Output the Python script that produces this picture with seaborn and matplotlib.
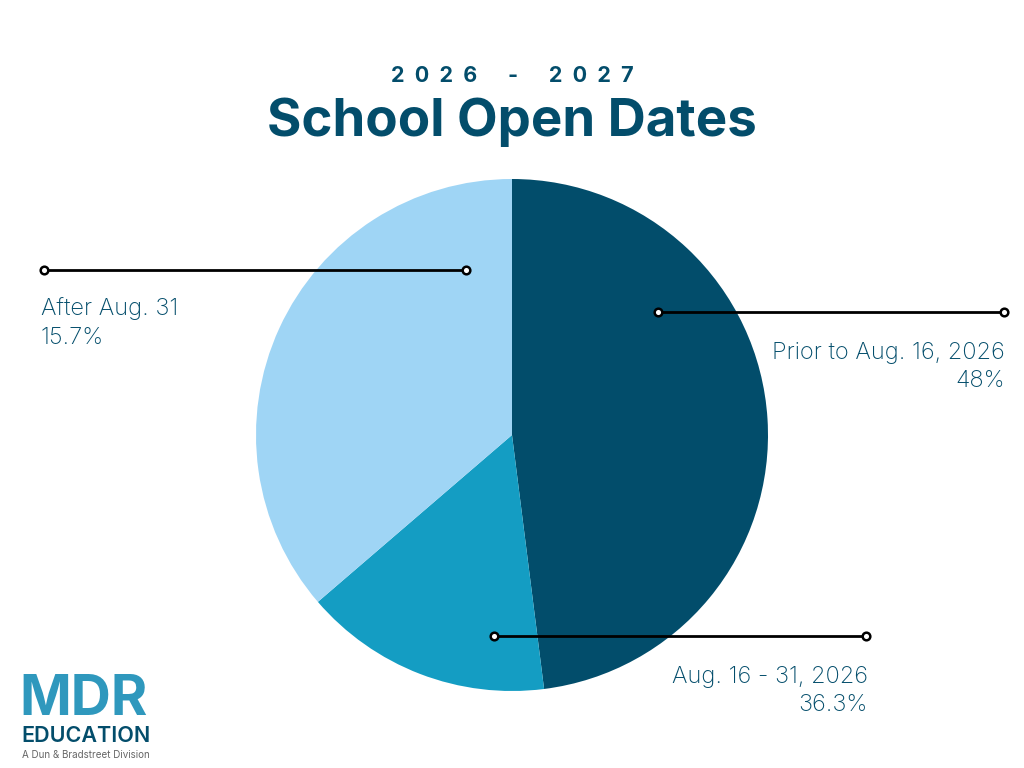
import matplotlib
matplotlib.use("Agg")
import matplotlib.pyplot as plt
import seaborn as sns

# ---- data ----
slice_values = [48.0, 15.7, 36.3]           # clockwise from 12 o'clock
slice_colors = ["#024d6b", "#149dc3", "#9fd5f5"]
label_names = ["Prior to Aug. 16, 2026", "Aug. 16 - 31, 2026", "After Aug. 31"]
label_pcts = ["48%", "36.3%", "15.7%"]
subtitle = "2026 - 2027"
title = "School Open Dates"

sns.set_theme(style="white")
plt.rcParams["font.family"] = ["Inter", "DejaVu Sans"]

NAVY = "#034d6b"
W, H = 1024, 768
fig = plt.figure(figsize=(W / 100, H / 100), dpi=100)
ax = fig.add_axes([0, 0, 1, 1])

def Y(py):
    return H - py

ax.pie(slice_values, colors=slice_colors, startangle=90, counterclock=False,
       center=(512, Y(435)), radius=256, frame=True,
       wedgeprops=dict(linewidth=0))
ax.set_xlim(0, W)
ax.set_ylim(0, H)
ax.set_aspect("auto")
ax.axis("off")

# leader lines
leaders = [((658, 1004), 312), ((494, 866), 636), ((44, 466), 270)]
for (x0, x1), py in leaders:
    ax.plot([x0, x1], [Y(py), Y(py)], color="black", lw=2, zorder=5,
            marker="o", markersize=5.5, markerfacecolor="white",
            markeredgecolor="black", markeredgewidth=1.8)

# labels
lab_fs = 17
kw = dict(fontsize=lab_fs, color=NAVY, fontweight="light", va="center")
ax.text(1005, Y(353), label_names[0], ha="right", **kw)
ax.text(1005, Y(381), label_pcts[0], ha="right", **kw)
ax.text(868, Y(677), label_names[1], ha="right", **kw)
ax.text(868, Y(705), label_pcts[1], ha="right", **kw)
ax.text(41, Y(309), label_names[2], ha="left", **kw)
ax.text(41, Y(338), label_pcts[2], ha="left", **kw)

# titles
spaced = "  ".join(list(subtitle.replace(" ", "")))
spaced = spaced.replace("6  -  2", "6      -      2")
ax.text(512, Y(76), spaced, ha="center", va="center", fontsize=15.5,
        color=NAVY, fontweight="bold")
ax.text(512, Y(122), title, ha="center", va="center", fontsize=38,
        color=NAVY, fontweight="bold")

# logo
ax.text(19, Y(700), "MDR", ha="left", va="center", fontsize=40,
        color="#2f98bd", fontweight="bold")
ax.text(21, Y(736), "EDUCATION", ha="left",
        va="center", fontsize=15.5, color=NAVY, fontweight="semibold")
ax.text(22, Y(755), "A Dun & Bradstreet Division", ha="left", va="center",
        fontsize=7.1, color="#666666")

fig.savefig("out.png", dpi=100)
